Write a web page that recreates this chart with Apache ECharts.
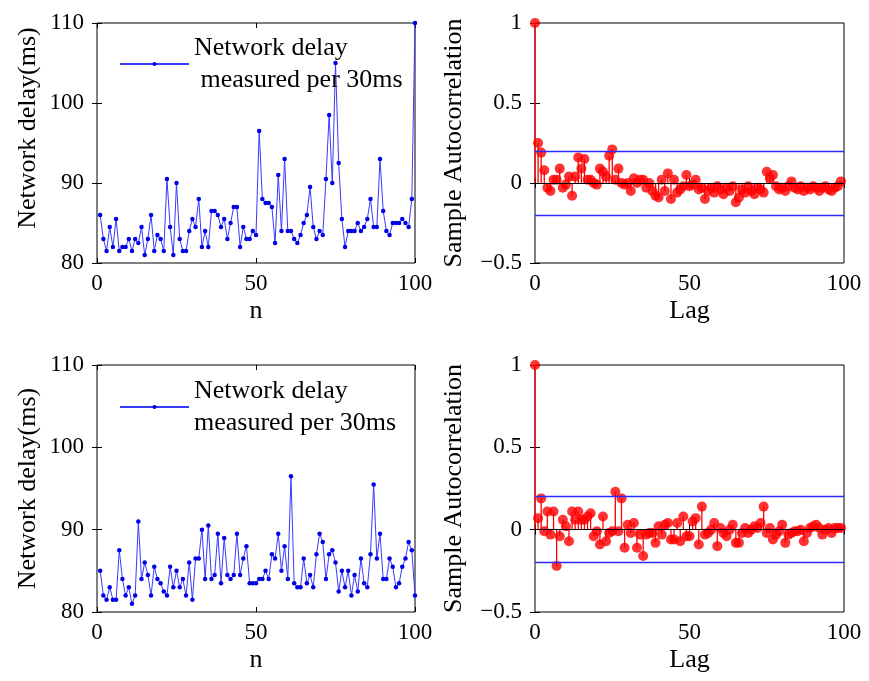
<!DOCTYPE html>
<html><head><meta charset="utf-8">
<script src="https://cdn.jsdelivr.net/npm/echarts@6/dist/echarts.min.js"></script>
<style>html,body{margin:0;padding:0;background:#fff}#c{width:869px;height:681px}</style>
</head><body><div id="c"></div>
<script>
// ---------- data ----------
const sampleIndex = Array.from({length: 100}, (_, i) => i + 1);
const lags = Array.from({length: 100}, (_, i) => i);

const delayTop = [86, 83, 81.5, 84.5, 82, 85.5, 81.5, 82, 82, 83, 81.5, 83, 82.5, 84.5, 81, 83, 86, 81.5, 83.5, 83,
  81.5, 90.5, 84.5, 81, 90, 83, 81.5, 81.5, 84, 85.5, 84.5, 88, 82, 84, 82, 86.5, 86.5, 86, 84.5, 85.5,
  83, 85, 87, 87, 82, 84.5, 83, 83, 84, 83.5, 96.5,
  88, 87.5, 87.5, 87, 82.5, 91, 84, 93, 84, 84, 83, 82.5, 83.5, 85, 86, 89.5, 84.5, 83, 84, 83.5,
  90.5, 98.5, 90, 105, 92.5, 85.5, 82, 84, 84, 84, 85, 84, 84.5, 85.5, 88, 84.5, 84.5, 93, 86.5, 84,
  83.5, 85, 85, 85, 85.5, 85, 84.5, 88, 110];

const delayBottom = [85, 82, 81.5, 83, 81.5, 81.5, 87.5, 84, 82, 83, 81, 82, 91, 84, 86, 84.5, 82, 85.5, 84, 83.5,
  82.5, 82, 85.5, 83, 85, 83, 84, 82, 86, 81.5, 86.5, 86.5, 90, 84, 90.5, 84, 84.5, 89.5, 83.5, 89,
  84.5, 84, 84.5, 89.5, 84.5, 86.5, 88, 83.5, 83.5, 83.5, 84,
  84, 85, 84, 87, 86.5, 89.5, 85, 88, 84, 96.5, 83.5, 83, 83, 86.5, 83.5, 84.5, 83, 87, 89.5, 88.5,
  84, 87, 87.5, 86, 82.5, 85, 83, 85, 82, 84.5, 82.5, 86.5, 83.5, 83, 87, 95.5, 86.5, 89.5, 84, 84,
  86.5, 85.5, 83, 83.5, 85.5, 86.5, 88.5, 87.5, 82];

const acfTop = [1, 0.25, 0.19, 0.08, -0.03, -0.05, 0.02, 0.02, 0.09, -0.03, -0.01, 0.04, -0.08, 0.04, 0.16, 0.09, 0.15, 0.02, 0.02, 0.0,
  -0.01, 0.09, 0.07, 0.04, 0.17, 0.21, 0.02, 0.09, 0.0, -0.01, 0.0, -0.05, 0.03, 0.0, 0.02, 0.02, -0.03, 0.0, -0.05, -0.08,
  -0.09, 0.02, -0.05, 0.06, -0.1, 0.02, -0.06, -0.04, -0.02, 0.05,
  -0.02, -0.01, 0.02, -0.04, -0.03, -0.1, -0.05, -0.03, -0.06, -0.02, -0.04, -0.07, -0.03, -0.05, -0.02, -0.12, -0.09, -0.04, -0.06, -0.02,
  -0.05, -0.07, -0.03, -0.04, -0.06, 0.07, 0.03, 0.05, -0.02, -0.04, -0.03, -0.05, -0.02, 0.01, -0.03, -0.04, -0.02, -0.05, -0.03, -0.04,
  -0.02, -0.03, -0.05, -0.03, -0.02, -0.04, -0.05, -0.03, -0.02, 0.01];

const acfBottom = [1, 0.07, 0.19, -0.01, 0.11, -0.03, 0.11, -0.22, -0.04, 0.06, 0.02, -0.07, 0.11, 0.06, 0.11, 0.06, 0.06, 0.08, 0.1, -0.04,
  -0.01, -0.09, 0.08, -0.07, -0.02, -0.01, 0.23, -0.01, 0.19, -0.11, 0.03, -0.02, 0.04, -0.11, -0.03, -0.16, -0.03, -0.02, -0.02, -0.08,
  0.02, -0.03, 0.03, 0.04, -0.06, -0.06, 0.04, -0.07, 0.08, -0.04,
  -0.04, 0.05, 0.07, -0.09, 0.14, -0.03, -0.02, 0.0, 0.04, -0.1, 0.01, -0.02, -0.04, 0.0, 0.03, -0.08, -0.08, -0.02, 0.01, -0.02,
  0.0, 0.02, 0.01, 0.04, 0.14, -0.02, 0.01, -0.06, -0.03, -0.01, 0.03, -0.08, -0.03, -0.02, -0.01, -0.01, 0.0, -0.07, -0.02, 0.01,
  0.02, 0.03, 0.01, -0.03, 0.0, 0.01, -0.02, 0.01, 0.01, 0.01];

const confBound = 0.2;
const legendTop = 'Network delay\n measured per 30ms';
const legendBottom = 'Network delay\nmeasured per 30ms';
const xTitleDelay = 'n', xTitleAcf = 'Lag';
const yTitleDelay = 'Network delay(ms)', yTitleAcf = 'Sample Autocorrelation';

// ---------- chart ----------
const FONT = '"Liberation Serif", "Times New Roman", serif';
const tickStyle = {inside: true, length: 5, lineStyle: {color: '#000', width: 1}};
const labelStyle = {color: '#000', fontFamily: FONT, fontSize: 23};
const nameStyle = {color: '#000', fontFamily: FONT, fontSize: 26};

function pair(gi, kind, isX) {
  const range = isX ? {min: 0, max: 100, interval: 50}
    : (kind === 'delay' ? {min: 80, max: 110, interval: 10} : {min: -0.5, max: 1, interval: 0.5});
  const nStyle = (!isX && gi === 0) ? Object.assign({padding: [0, 0, 0, 30]}, nameStyle) : nameStyle;
  const main = Object.assign({
    type: 'value', gridIndex: gi,
    position: isX ? 'bottom' : 'left',
    axisLine: {show: false}, splitLine: {show: false},
    axisTick: tickStyle,
    axisLabel: Object.assign({margin: isX ? 9 : 13,
      formatter: v => String(v).replace('-', '\u2212')}, labelStyle),
    nameLocation: 'middle', nameTextStyle: nStyle,
    name: isX ? (kind === 'delay' ? xTitleDelay : xTitleAcf) : (kind === 'delay' ? yTitleDelay : yTitleAcf),
    nameGap: isX ? 35 : (kind === 'delay' ? 56 : 68)
  }, range);
  const twin = Object.assign({
    type: 'value', gridIndex: gi,
    position: isX ? 'top' : 'right',
    axisLine: {show: false}, splitLine: {show: false},
    axisTick: tickStyle, axisLabel: {show: false}
  }, range);
  return [main, twin];
}

const grids = [
  {left: 97, top: 23, width: 318, height: 240},
  {left: 535, top: 23, width: 309, height: 240},
  {left: 97, top: 365, width: 318, height: 247},
  {left: 535, top: 365, width: 309, height: 247}
].map(g => Object.assign({show: true, borderColor: '#000', borderWidth: 1, containLabel: false}, g));

const kinds = ['delay', 'acf', 'delay', 'acf'];
const xAxes = [], yAxes = [];
kinds.forEach((k, i) => { xAxes.push(...pair(i, k, true)); yAxes.push(...pair(i, k, false)); });

function delaySeries(name, values, gi) {
  return {
    type: 'line', name: name, xAxisIndex: gi * 2, yAxisIndex: gi * 2,
    data: sampleIndex.map((n, i) => [n, values[i]]),
    symbol: 'circle', symbolSize: 4.5, showSymbol: true,
    lineStyle: {color: '#3a3aff', width: 1},
    itemStyle: {color: '#0000e6'},
    silent: true
  };
}
function acfSeries(values, gi) {
  return [{
    type: 'bar', xAxisIndex: gi * 2, yAxisIndex: gi * 2,
    data: lags.map((l, i) => [l, values[i]]),
    barWidth: 1.3, itemStyle: {color: '#ff0000'}, silent: true,
    markLine: {
      silent: true, symbol: 'none', label: {show: false}, animation: false,
      data: [
        {yAxis: 0, lineStyle: {color: '#000', width: 1.2, type: 'solid'}},
        {yAxis: confBound, lineStyle: {color: '#2a2aff', width: 1.3, type: 'solid'}},
        {yAxis: -confBound, lineStyle: {color: '#2a2aff', width: 1.3, type: 'solid'}}
      ]
    }
  }, {
    type: 'scatter', xAxisIndex: gi * 2, yAxisIndex: gi * 2,
    data: lags.map((l, i) => [l, values[i]]),
    symbol: 'circle', symbolSize: 10, itemStyle: {color: '#ff0000'}, silent: true, z: 3
  }];
}

const legendCommon = {
  orient: 'vertical', itemWidth: 69, itemHeight: 5, itemGap: 4, padding: 0,
  textStyle: {color: '#000', fontFamily: FONT, fontSize: 26, lineHeight: 32},
  selectedMode: false
};

const option = {
  animation: false,
  backgroundColor: '#fff',
  grid: grids,
  xAxis: xAxes,
  yAxis: yAxes,
  legend: [
    Object.assign({left: 119, top: 32, data: [legendTop]}, legendCommon),
    Object.assign({left: 119, top: 375, data: [legendBottom]}, legendCommon)
  ],
  series: [
    delaySeries(legendTop, delayTop, 0),
    ...acfSeries(acfTop, 1),
    delaySeries(legendBottom, delayBottom, 2),
    ...acfSeries(acfBottom, 3)
  ]
};

const chart = echarts.init(document.getElementById('c'), null, {renderer: 'canvas'});
chart.setOption(option);
</script>
</body></html>
